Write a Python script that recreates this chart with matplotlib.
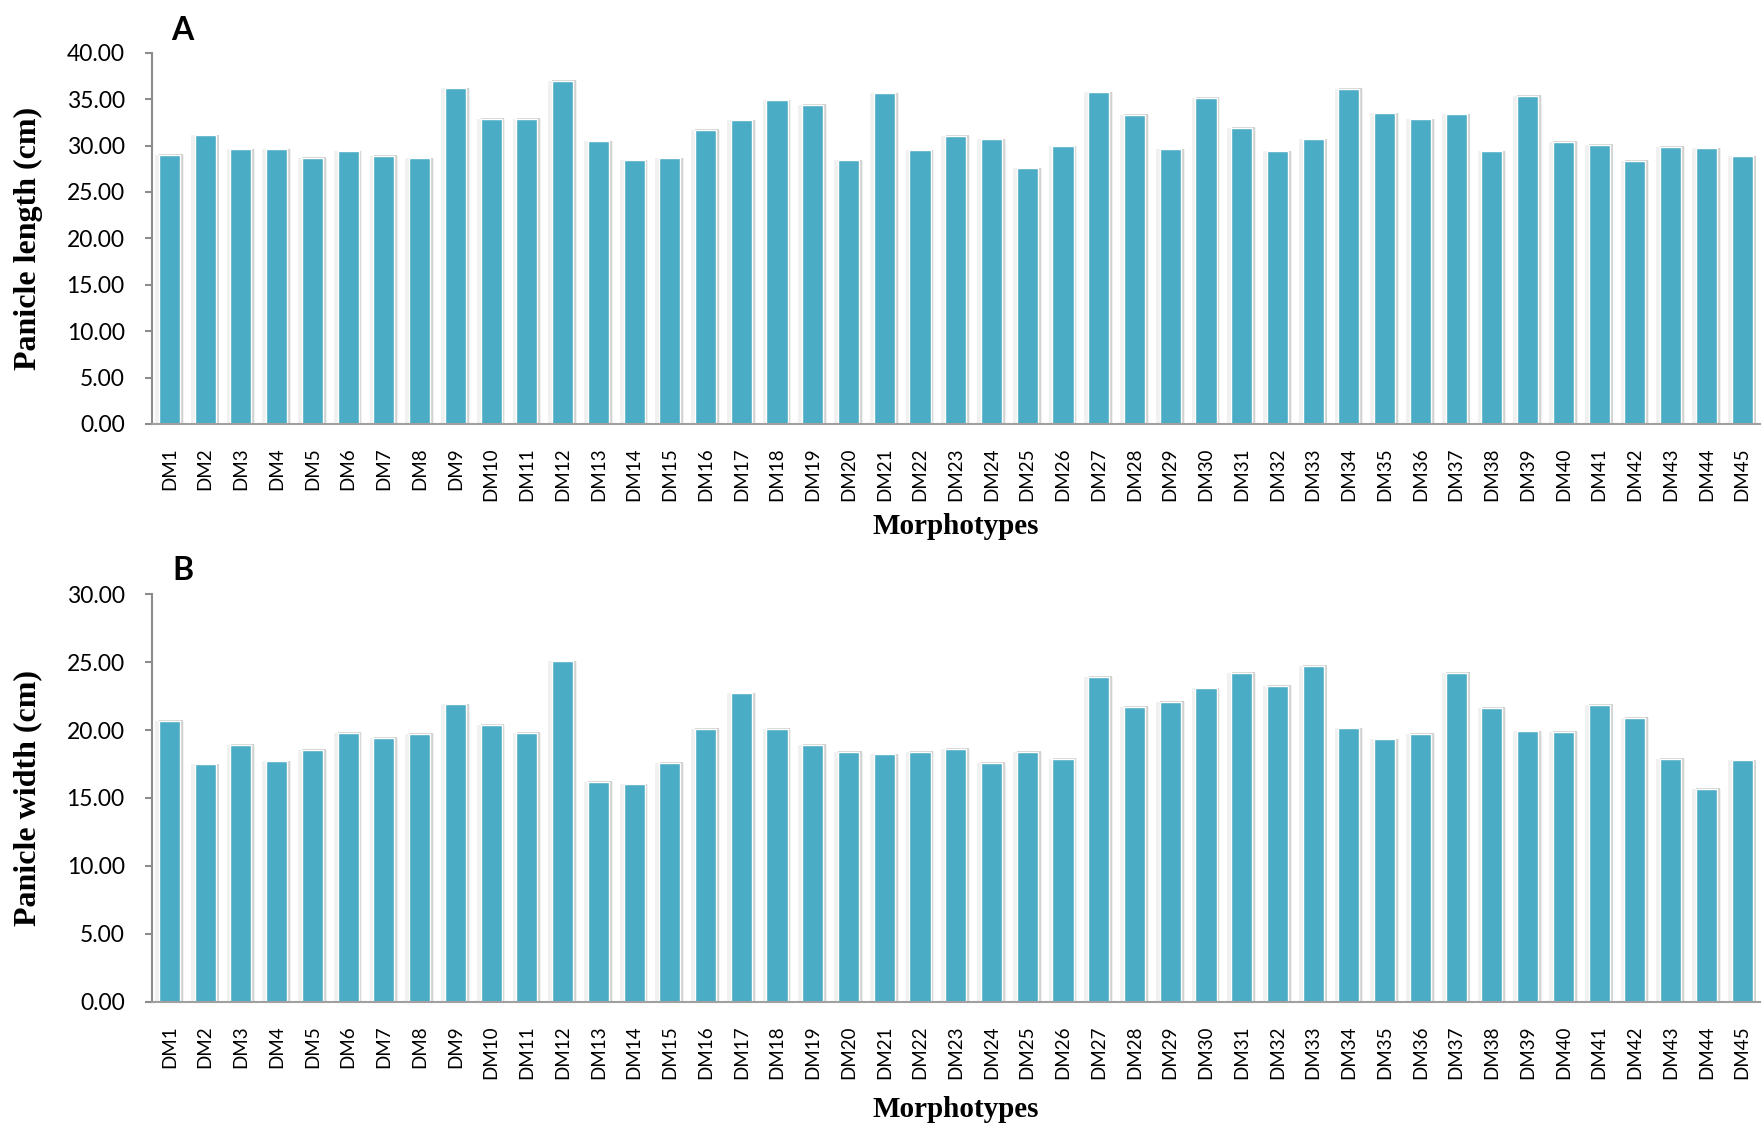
# Panicle length / width per morphotype, two bar panels

import matplotlib
matplotlib.use('Agg')
import matplotlib.pyplot as plt
import numpy as np

# Morphotypes DM1..DM45
morphotypes = ['DM' + str(i) for i in range(1, 46)]

# Panicle length (cm)
panicle_length = [29.0, 31.1, 29.6, 29.6, 28.7, 29.4, 28.9, 28.65, 36.2, 32.9,
                  32.9, 37.0, 30.45, 28.4, 28.65, 31.7, 32.7, 34.9, 34.4, 28.4,
                  35.65, 29.5, 31.05, 30.7, 27.55, 29.95, 35.75, 33.3, 29.6, 35.15,
                  31.9, 29.4, 30.65, 36.1, 33.5, 32.85, 33.35, 29.4, 35.35, 30.4,
                  30.1, 28.35, 29.85, 29.7, 28.85]

# Panicle width (cm)
panicle_width = [20.7, 17.47, 18.9, 17.7, 18.55, 19.8, 19.4, 19.7, 21.9, 20.4,
                 19.8, 25.05, 16.2, 16.0, 17.6, 20.1, 22.7, 20.1, 18.9, 18.4,
                 18.2, 18.4, 18.6, 17.6, 18.4, 17.9, 23.9, 21.7, 22.1, 23.07,
                 24.2, 23.27, 24.74, 20.12, 19.31, 19.7, 24.2, 21.65, 19.9, 19.85,
                 21.84, 20.88, 17.89, 15.68, 17.76]

length_ticks = [0, 5, 10, 15, 20, 25, 30, 35, 40]
width_ticks = [0, 5, 10, 15, 20, 25, 30]

bar_color = '#4BACC6'
serif = ['Liberation Serif', 'DejaVu Serif']
sans = ['Lato', 'DejaVu Sans']

fig = plt.figure(figsize=(17.65, 11.24), dpi=100)
W, H = 1765.0, 1124.0

# axes positions in pixels: (left, right, top, bottom)
ax_a = fig.add_axes([151.5 / W, 1 - 424.0 / H, (1760 - 151.5) / W, (424.0 - 52.7) / H])
ax_b = fig.add_axes([151.5 / W, 1 - 1001.5 / H, (1760 - 151.5) / W, (1001.5 - 594.3) / H])


def draw_panel(ax, values, ticks, ylabel, xlabel_y):
    x = np.arange(len(values))
    vals = np.array(values)
    # soft shadow behind the bars
    ax.bar(x, vals, width=0.80, color='#f1f1f1', zorder=1)
    ax.bar(x + 0.045, vals + 0.05, width=0.66, color='#d2d2d2', zorder=2)
    ax.bar(x, vals, width=0.59, color=bar_color, edgecolor='white',
           linewidth=1.0, zorder=3)

    ax.set_xlim(-0.5, len(values) - 0.5)
    ax.set_ylim(ticks[0], ticks[-1])
    ax.set_yticks(ticks)
    ax.set_yticklabels(['%.2f' % t for t in ticks], family=sans, fontsize=16.5)
    ax.set_xticks(x)
    ax.set_xticklabels(morphotypes, rotation=90, family=sans, fontsize=13.5,
                       va='top', ha='center')
    ax.tick_params(axis='x', length=0, pad=17)
    ax.tick_params(axis='y', length=5.3, width=1.5, color='#8c8c8c', pad=14)

    for side in ['top', 'right']:
        ax.spines[side].set_visible(False)
    ax.spines['left'].set_color('#8c8c8c')
    ax.spines['left'].set_linewidth(1.5)
    ax.spines['bottom'].set_color('#a0a0a0')
    ax.spines['bottom'].set_linewidth(1.5)
    ax.spines['left'].set_zorder(5)
    ax.spines['bottom'].set_zorder(5)

    ax.set_ylabel(ylabel, family=serif, fontweight='bold', fontsize=23, va='center')
    ax.yaxis.set_label_coords(-0.0768, 0.5)
    ax.set_xlabel('Morphotypes', family=serif, fontweight='bold', fontsize=21, va='center')
    ax.xaxis.set_label_coords(0.5, xlabel_y)


draw_panel(ax_a, panicle_length, length_ticks, 'Panicle length (cm)', -0.2774)
draw_panel(ax_b, panicle_width, width_ticks, 'Panicle width (cm)', -0.264)

# Panel letters
fig.text(182 / W, 1 - 40 / H, 'A', family=sans, fontweight='bold', fontsize=23,
         ha='center', va='baseline')
fig.text(183 / W, 1 - 580 / H, 'B', family=sans, fontweight='bold', fontsize=23,
         ha='center', va='baseline')

plt.savefig('out.png', dpi=100)
